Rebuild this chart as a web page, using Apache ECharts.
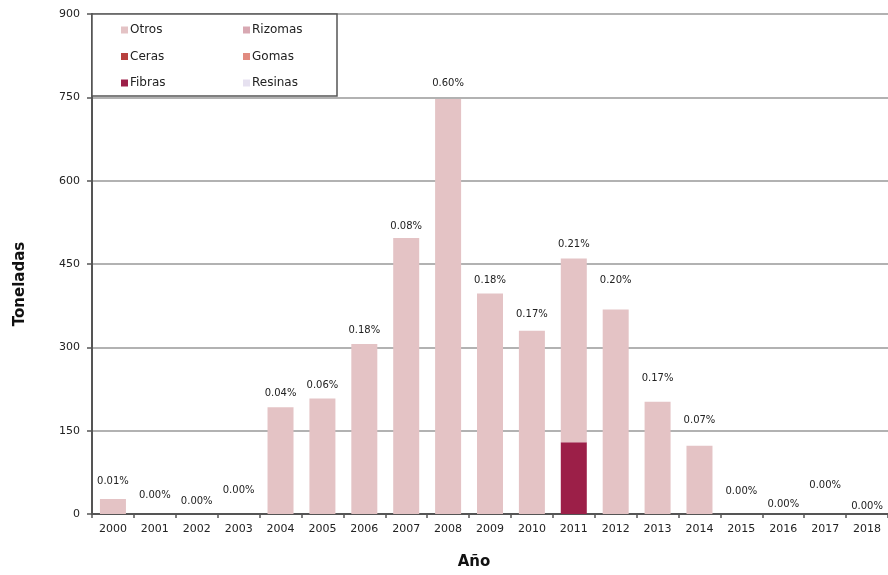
<!DOCTYPE html>
<html><head><meta charset="utf-8">
<script src="https://cdn.jsdelivr.net/npm/echarts@6/dist/echarts.min.js"></script>
<style>html,body{margin:0;padding:0;background:#fff}#c{width:888px;height:575px}</style>
</head><body><div id="c"></div>
<script>
const years = ['2000','2001','2002','2003','2004','2005','2006','2007','2008','2009','2010','2011','2012','2013','2014','2015','2016','2017','2018'];
const otros   = [27,0,0,0,192,208,306,497,747,397,330,331,368,202,123,0,0,0,0];
const fibras  = [0,0,0,0,0,0,0,0,0,0,0,129,0,0,0,0,0,0,0];
const rizomas = [0,0,0,0,0,0,0,0,0,0,0,0,0,0,0,0,0,0,0];
const ceras   = [0,0,0,0,0,0,0,0,0,0,0,0,0,0,0,0,0,0,0];
const gomas   = [0,0,0,0,0,0,0,0,0,0,0,0,0,0,0,0,0,0,0];
const resinas = [0,0,0,0,0,0,0,0,0,0,0,0,0,0,0,0,0,0,0];
const shares  = ['0.01%','0.00%','0.00%','0.00%','0.04%','0.06%','0.18%','0.08%','0.60%','0.18%','0.17%','0.21%','0.20%','0.17%','0.07%','0.00%','0.00%','0.00%','0.00%'];
const yTicks  = [0,150,300,450,600,750,900];

// label lift (style only)
const labelLift = [8,9,3,14,4,3,4,1,6,3,6,4,19,13,15,13,0,19,-2];

const FONT = 'DejaVu Sans';
const colors = {Otros:'#e4c3c5', Rizomas:'#d8a8b2', Ceras:'#b8403e', Gomas:'#e18b80', Fibras:'#9c1f48', Resinas:'#e6e1f0'};

function mk(name, arr, extra) {
  return Object.assign({
    name, type:'bar', stack:'t', data: arr, barWidth: 26,
    itemStyle:{color: colors[name]}
  }, extra || {});
}

const otrosData = otros.map((v,i)=>({value:v, label:{offset:[0,-labelLift[i]]}}));

const chart = echarts.init(document.getElementById('c'), null, {renderer:'canvas'});
chart.setOption({
  animation:false,
  textStyle:{fontFamily:FONT},
  grid:{left:92, right:0, top:14, bottom:59, containLabel:false},
  graphic:[{type:'rect', z:3, shape:{x:92, y:14, width:245, height:82},
    style:{fill:'#fff', stroke:'#555', lineWidth:1.5}}],
  legend:[
    {data:['Otros','Ceras','Fibras'], orient:'vertical', left:116, top:19, itemWidth:7, itemHeight:7, itemGap:14.5, z:5,
     textStyle:{fontFamily:FONT, fontSize:12, color:'#222', padding:[0,0,0,-3]}, icon:'rect'},
    {data:['Rizomas','Gomas','Resinas'], orient:'vertical', left:238, top:19, itemWidth:7, itemHeight:7, itemGap:14.5, z:5,
     textStyle:{fontFamily:FONT, fontSize:12, color:'#222', padding:[0,0,0,-3]}, icon:'rect'}
  ],
  xAxis:{type:'category', data:years, name:'Año', nameLocation:'middle', nameGap:41,
    nameTextStyle:{fontFamily:FONT, fontSize:15, fontWeight:'bold', color:'#111', padding:[0,32,0,0]},
    axisLine:{lineStyle:{color:'#555', width:2}},
    axisTick:{show:true, length:4, lineStyle:{color:'#555', width:1.5}},
    axisLabel:{fontFamily:FONT, fontSize:11, color:'#222', margin:10}},
  yAxis:{type:'value', min:0, max:900, interval:150, name:'Toneladas', nameLocation:'middle', nameGap:64,
    nameTextStyle:{fontFamily:FONT, fontSize:15, fontWeight:'bold', color:'#111', padding:[0,0,0,-40]},
    axisLine:{show:true, lineStyle:{color:'#555', width:2}},
    axisTick:{show:true, length:5, lineStyle:{color:'#555', width:1.5}},
    axisLabel:{fontFamily:FONT, fontSize:11, color:'#222', margin:12,
      formatter:(v)=> yTicks.includes(v) ? String(v) : ''},
    splitLine:{lineStyle:{color:'#999', width:1.5}}},
  series:[
    mk('Fibras', fibras),
    mk('Ceras', ceras),
    mk('Gomas', gomas),
    mk('Rizomas', rizomas),
    mk('Resinas', resinas),
    mk('Otros', otrosData, {label:{show:true, position:'top', distance:5, fontFamily:FONT, fontSize:10, color:'#222',
      formatter:(p)=>shares[p.dataIndex]}})
  ]
});
</script></body></html>
